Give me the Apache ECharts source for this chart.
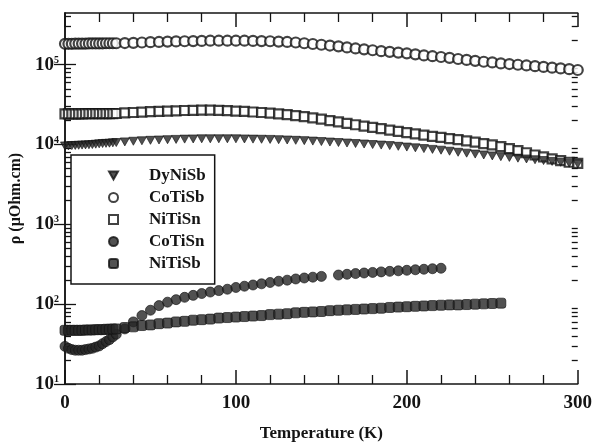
<!DOCTYPE html>
<html>
<head>
<meta charset="utf-8">
<script src="https://cdn.jsdelivr.net/npm/echarts@6/dist/echarts.min.js"></script>
<style>
  html, body { margin: 0; padding: 0; background: #fff; }
  #chart { width: 595px; height: 447px; }
</style>
</head>
<body>
<div id="chart"></div>
<script>
// temperature grid (K), denser at low T like the measurement
const temps = [0, 2, 4, 6, 8, 10, 12, 14, 16, 18, 20, 22, 24, 26, 28,
  30, 35, 40, 45, 50, 55, 60, 65, 70, 75, 80, 85, 90, 95, 100,
  105, 110, 115, 120, 125, 130, 135, 140, 145, 150, 155, 160, 165, 170, 175,
  180, 185, 190, 195, 200, 205, 210, 215, 220, 225, 230, 235, 240, 245, 250,
  255, 260, 265, 270, 275, 280, 285, 290, 295, 300];

// resistivity in uOhm.cm (null = no point)
const dyNiSb = [9600, 9650, 9700, 9750, 9800, 9850, 9900, 9950, 10000, 10100, 10200, 10300, 10350, 10400, 10500,
  10600, 10800, 11000, 11150, 11300, 11400, 11500, 11600, 11700, 11750, 11800, 11800, 11800, 11800, 11800,
  11750, 11700, 11650, 11600, 11500, 11400, 11300, 11200, 11050, 10900, 10750, 10600, 10450, 10300, 10150,
  10000, 9850, 9700, 9500, 9300, 9100, 8900, 8700, 8500, 8250, 8000, 7800, 7600, 7400, 7200,
  7050, 6900, 6750, 6600, 6450, 6300, 6150, 6000, 5850, 5700];
const coTiSb = [183000, 183000, 183000, 184000, 184000, 184000, 184000, 185000, 185000, 185000, 185000, 185000, 186000, 186000, 186000,
  186000, 187000, 188000, 190000, 192000, 193000, 195000, 196000, 197000, 198000, 199000, 200000, 200000, 200000, 200000,
  200000, 199000, 198000, 197000, 195000, 193000, 190000, 186000, 182000, 178000, 174000, 170000, 165000, 160000, 156000,
  152000, 148000, 145000, 142000, 139000, 135000, 131000, 128000, 125000, 122000, 118000, 115000, 112000, 109000, 107000,
  104000, 102000, 100000, 98000, 96000, 94000, 92000, 90000, 88000, 86000];
const niTiSn = [24300, 24300, 24300, 24300, 24300, 24300, 24350, 24350, 24400, 24400, 24400, 24400, 24450, 24450, 24450,
  24500, 25000, 25200, 25500, 25800, 26000, 26200, 26500, 26700, 26800, 27000, 27000, 26800, 26600, 26300,
  26000, 25600, 25200, 24800, 24300, 23700, 23000, 22400, 21600, 20800, 20000, 19200, 18400, 17700, 17000,
  16400, 15800, 15200, 14600, 14100, 13600, 13100, 12700, 12300, 11900, 11500, 11100, 10700, 10300, 9900,
  9400, 8900, 8400, 7900, 7400, 7000, 6600, 6300, 6000, 5800];
const coTiSn = [29.6, 28, 27, 26.5, 26.5, 26.5, 27, 27.5, 28, 29, 30, 32, 34, 36, 39,
  42, 49, 60, 72, 84, 96, 106, 114, 122, 129, 136, 142, 148, 154, 162,
  168, 174, 180, 187, 194, 200, 207, 213, 218, 223, null, 232, 237, 242, 246,
  250, 254, 258, 262, 266, 270, 274, 278, 282, null, null, null, null, null, null,
  null, null, null, null, null, null, null, null, null, null];
const niTiSb = [47, 47, 47, 47, 47, 47, 47.5, 47.5, 47.5, 48, 48, 48, 48.5, 48.5, 49,
  49, 51, 52, 54, 55, 57, 58, 60, 61, 63, 64, 65, 67, 68, 69,
  70, 71, 72, 74, 75, 76, 78, 79, 80, 81, 83, 84, 85, 86, 87,
  88, 89, 91, 92, 93, 94, 95, 96, 97, 98, 98, 99, 100, 101, 102,
  103, null, null, null, null, null, null, null, null, null];

const majorY = [10, 100, 1000, 10000, 100000];
const minorY = [];
majorY.forEach(function (d) {
  for (let k = 2; k <= 9; k++) {
    if (d * k <= 445000) minorY.push(d * k);
  }
});

const FONT = "'Liberation Serif', 'DejaVu Serif', serif";
const INK = '#141414';

function pairs(vals) {
  const out = [];
  vals.forEach(function (v, i) {
    if (v !== null) out.push([temps[i], v]);
  });
  return out;
}

function xAx(pos, showLabel) {
  return {
    type: 'value', position: pos, min: 0, max: 300, interval: 100,
    axisLine: { lineStyle: { color: INK, width: 1.5 } },
    axisTick: { inside: true, length: 14, lineStyle: { color: INK, width: 1.5 } },
    minorTick: { show: true, splitNumber: 5, length: 9, lineStyle: { color: INK, width: 1.3 } },
    splitLine: { show: false },
    axisLabel: {
      show: showLabel, margin: 10, color: INK,
      fontFamily: FONT, fontWeight: 'bold', fontSize: 19
    },
    name: showLabel ? 'Temperature (K)' : '',
    nameLocation: 'middle', nameGap: 41,
    nameTextStyle: { color: INK, fontFamily: FONT, fontWeight: 'bold', fontSize: 17 }
  };
}

function yAx(pos, minor, showLabel) {
  return {
    type: 'log', logBase: 10, position: pos, min: 10, max: 445000,
    axisLine: { show: !minor, lineStyle: { color: INK, width: 1.5 } },
    axisTick: {
      inside: true, length: minor ? 6 : 11,
      customValues: minor ? minorY : majorY,
      lineStyle: { color: INK, width: 1.3 }
    },
    splitLine: { show: false },
    axisLabel: {
      show: showLabel, customValues: majorY, margin: 6,
      formatter: function (v) {
        return '{b|10}{s|' + Math.round(Math.log10(v)) + '}';
      },
      rich: {
        b: { fontFamily: FONT, fontWeight: 'bold', fontSize: 19, color: INK },
        s: { fontFamily: FONT, fontWeight: 'bold', fontSize: 10, color: INK, verticalAlign: 'top' }
      }
    },
    name: showLabel ? 'ρ (μOhm.cm)' : '',
    nameLocation: 'middle', nameGap: 38,
    nameTextStyle: { color: INK, fontFamily: FONT, fontWeight: 'bold', fontSize: 16 }
  };
}

const openStyle = { color: '#fff', borderColor: INK, borderWidth: 2.2 };
const fillStyle = { color: '#262626', borderColor: '#111', borderWidth: 0.8 };

const chart = echarts.init(document.getElementById('chart'), null, { renderer: 'canvas' });
chart.setOption({
  animation: false,
  backgroundColor: '#fff',
  grid: { left: 65, right: 16, top: 13, bottom: 61 },
  xAxis: [xAx('bottom', true), xAx('top', false)],
  yAxis: [yAx('left', false, true), yAx('right', false, false),
          yAx('left', true, false), yAx('right', true, false)],
  legend: {
    orient: 'vertical', left: 71, top: 155,
    padding: [12, 9, 12, 37], itemGap: 5,
    itemWidth: 9, itemHeight: 9,
    borderColor: INK, borderWidth: 1.5, backgroundColor: '#fff',
    textStyle: { color: INK, fontFamily: FONT, fontWeight: 'bold', fontSize: 17, padding: [0, 0, 0, 26] },
    data: ['DyNiSb', 'CoTiSb', 'NiTiSn', 'CoTiSn', 'NiTiSb']
  },
  series: [
    { name: 'CoTiSb', type: 'scatter', symbol: 'circle', symbolSize: 10, itemStyle: openStyle, data: pairs(coTiSb) },
    { name: 'NiTiSn', type: 'scatter', symbol: 'rect', symbolSize: 9, itemStyle: openStyle, data: pairs(niTiSn) },
    { name: 'DyNiSb', type: 'scatter', symbol: 'path://M0,0L10,0L5,9Z', symbolSize: [9, 8], itemStyle: fillStyle, data: pairs(dyNiSb) },
    { name: 'CoTiSn', type: 'scatter', symbol: 'circle', symbolSize: 10, itemStyle: fillStyle, data: pairs(coTiSn) },
    { name: 'NiTiSb', type: 'scatter', symbol: 'roundRect', symbolSize: 10, itemStyle: fillStyle, data: pairs(niTiSb) }
  ]
});
</script>
</body>
</html>
